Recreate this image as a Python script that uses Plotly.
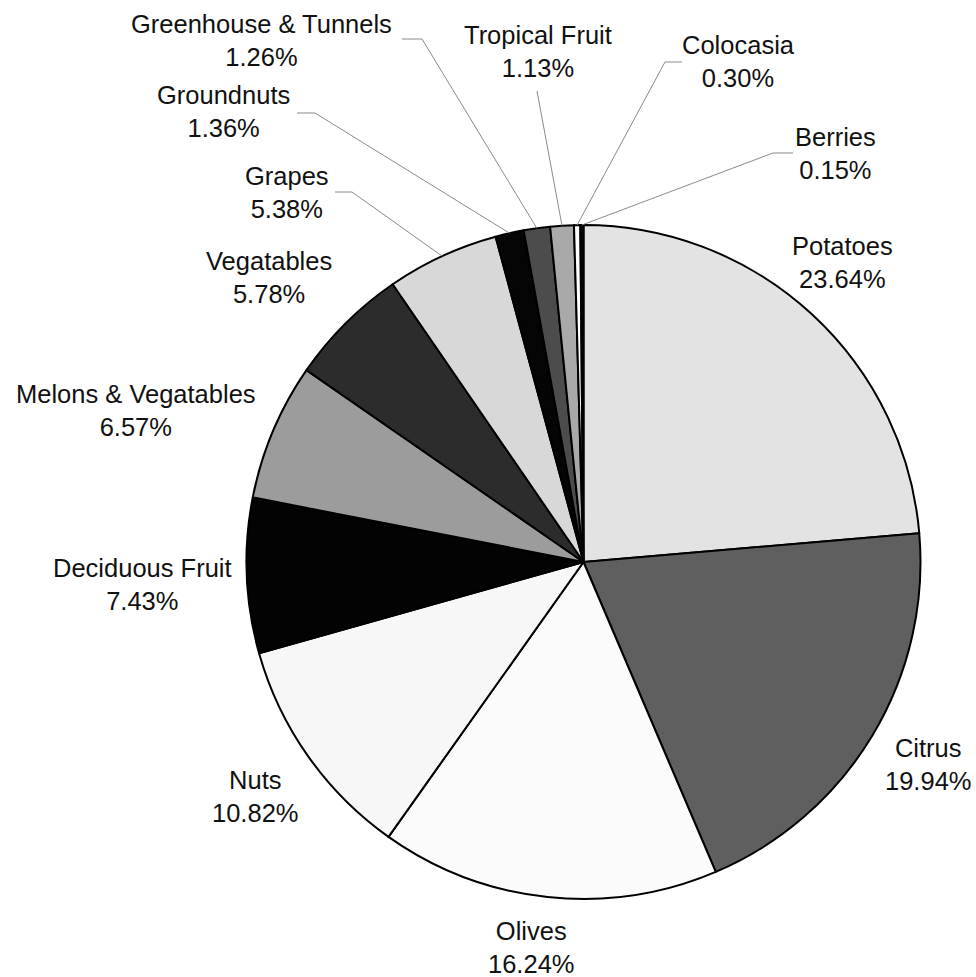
import math
import plotly.graph_objects as go

# Share of irrigated cropland by crop group (percent)
crops = [
    "Potatoes", "Citrus", "Olives", "Nuts", "Deciduous Fruit",
    "Melons & Vegatables", "Vegatables", "Grapes", "Groundnuts",
    "Greenhouse & Tunnels", "Tropical Fruit", "Colocasia", "Berries",
]
shares = [23.64, 19.94, 16.24, 10.82, 7.43, 6.57, 5.78, 5.38, 1.36, 1.26, 1.13, 0.30, 0.15]
fills = [
    "#e3e3e3", "#5f5f5f", "#fbfbfb", "#f7f7f7", "#030303",
    "#9c9c9c", "#2c2c2c", "#d8d8d8", "#050505",
    "#4c4c4c", "#a9a9a9", "#ffffff", "#050505",
]

# Label placement (pixel centre of the label block) and leader-line elbows
label_pos = {
    "Potatoes": (842, 263),
    "Citrus": (928, 764),
    "Olives": (531, 947),
    "Nuts": (255, 796),
    "Deciduous Fruit": (142, 584),
    "Melons & Vegatables": (136, 411),
    "Vegatables": (269, 277),
    "Grapes": (287, 192),
    "Groundnuts": (223, 112),
    "Greenhouse & Tunnels": (261, 40),
    "Tropical Fruit": (538, 51),
    "Colocasia": (738, 62),
    "Berries": (835, 153),
}
leaders = {
    "Grapes": [(335, 192), (352, 192)],
    "Groundnuts": [(297, 113), (315, 113)],
    "Greenhouse & Tunnels": [(402, 39), (422, 39)],
    "Tropical Fruit": [(537, 91)],
    "Colocasia": [(682, 62), (665, 62)],
    "Berries": [(793, 153), (773, 153)],
}

W, H = 976, 977
CX, CY, R = 583.5, 562.0, 337.0


def px(x, y):
    return x / W, 1 - y / H


fig = go.Figure(
    go.Pie(
        labels=crops,
        values=shares,
        sort=False,
        direction="clockwise",
        rotation=0,
        marker=dict(colors=fills, line=dict(color="#000000", width=2)),
        textinfo="none",
        hoverinfo="label+percent",
        showlegend=False,
        domain=dict(
            x=[(CX - R) / W, (CX + R) / W],
            y=[1 - (CY + R) / H, 1 - (CY - R) / H],
        ),
    )
)

font = dict(family="Liberation Sans, Arial, Helvetica, sans-serif", size=25.5, color="#111111")
annotations = []
shapes = []
total = sum(shares)
cum = 0.0
for name, val in zip(crops, shares):
    mid = (cum + val / 2) / total * 2 * math.pi
    cum += val
    lx, ly = label_pos[name]
    ax, ay = px(lx, ly)
    annotations.append(dict(
        x=ax, y=ay, xref="paper", yref="paper", showarrow=False,
        text=f"{name}<br>{val:.2f}%", font=font, align="center",
        xanchor="center", yanchor="middle",
    ))
    if name in leaders:
        edge = (CX + R * math.sin(mid), CY - R * math.cos(mid))
        pts = leaders[name] + [edge]
        for (x0, y0), (x1, y1) in zip(pts[:-1], pts[1:]):
            p0, p1 = px(x0, y0), px(x1, y1)
            shapes.append(dict(
                type="line", xref="paper", yref="paper",
                x0=p0[0], y0=p0[1], x1=p1[0], y1=p1[1],
                line=dict(color="#8a8a8a", width=1),
            ))

fig.update_layout(
    width=W, height=H,
    margin=dict(l=0, r=0, t=0, b=0),
    paper_bgcolor="white",
    plot_bgcolor="white",
    annotations=annotations,
    shapes=shapes,
)

fig.write_html("out.html")
